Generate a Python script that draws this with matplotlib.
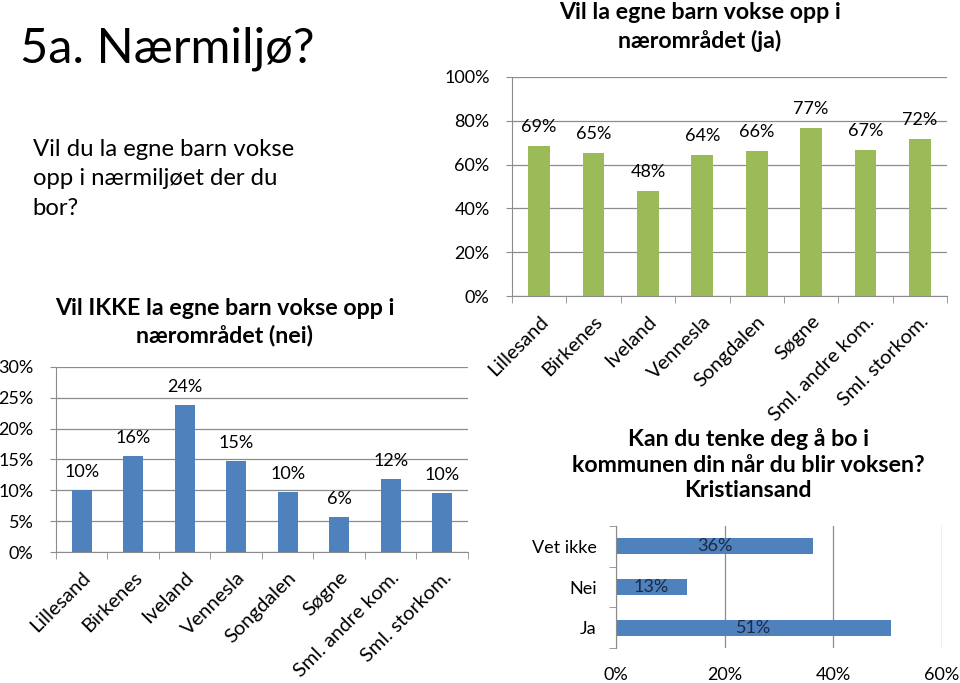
import matplotlib.pyplot as plt
import numpy as np
from matplotlib.ticker import FixedLocator, PercentFormatter

plt.rcParams['font.family'] = ['Lato', 'DejaVu Sans']

places = ["Lillesand", "Birkenes", "Iveland", "Vennesla", "Songdalen",
          "Søgne", "Sml. andre kom.", "Sml. storkom."]
ja_vals = [68.5, 65.3, 47.9, 64.4, 66.2, 76.7, 66.7, 71.7]
ja_labels = ["69%", "65%", "48%", "64%", "66%", "77%", "67%", "72%"]
nei_vals = [10.0, 15.5, 23.9, 14.8, 9.7, 5.6, 11.9, 9.5]
nei_labels = ["10%", "16%", "24%", "15%", "10%", "6%", "12%", "10%"]
kr_cats = ["Ja", "Nei", "Vet ikke"]
kr_vals = [50.6, 13.1, 36.3]
kr_labels = ["51%", "13%", "36%"]

GREEN = "#9BBB59"
BLUE = "#4F81BD"
GRID = "#8c8c8c"
FS = 13
TFS = 16.7

fig = plt.figure(figsize=(9.6, 6.83), dpi=100)


def style_vbar(ax, ymax, ystep):
    n = len(places)
    ax.set_xlim(-0.5, n - 0.5)
    ax.set_ylim(0, ymax)
    ax.set_yticks(np.arange(0, ymax + 0.01, ystep))
    ax.yaxis.set_major_formatter(PercentFormatter(decimals=0))
    ax.grid(axis='y', color=GRID, lw=0.9)
    ax.set_axisbelow(True)
    for s in ['top', 'right']:
        ax.spines[s].set_visible(False)
    for s in ['left', 'bottom']:
        ax.spines[s].set_color(GRID)
    ax.set_xticks(range(n))
    ax.set_xticklabels(places, rotation=45, ha='right', rotation_mode='anchor', fontsize=14.5)
    ax.tick_params(axis='x', length=0, pad=12)
    ax.xaxis.set_minor_locator(FixedLocator(np.arange(-0.5, n, 1)))
    ax.tick_params(axis='x', which='minor', length=5, color=GRID)
    ax.tick_params(axis='y', length=4, color=GRID, labelsize=FS, pad=12)


# top right: ja
ax1 = fig.add_axes([0.5333, 0.5666, 0.4532, 0.3207])
ax1.bar(range(len(places)), ja_vals, width=0.4, color=GREEN)
style_vbar(ax1, 100, 20)
for i, (v, t) in enumerate(zip(ja_vals, ja_labels)):
    ax1.annotate(t, (i, v), xytext=(0, 13.5), textcoords='offset points', ha='center', va='center', fontsize=FS)
fig.text(700 / 960, 0.9605, "Vil la egne barn vokse opp i\nnærområdet (ja)", fontsize=TFS,
         fontweight='bold', ha='center', va='center', linespacing=1.33)

# bottom left: nei
ax2 = fig.add_axes([0.0583, 0.1918, 0.4292, 0.2709])
ax2.bar(range(len(places)), nei_vals, width=0.39, color=BLUE)
style_vbar(ax2, 30, 5)
for i, (v, t) in enumerate(zip(nei_vals, nei_labels)):
    ax2.annotate(t, (i, v), xytext=(0, 13), textcoords='offset points', ha='center', va='center', fontsize=FS)
fig.text(225 / 960, 0.5278, "Vil IKKE la egne barn vokse opp i\nnærområdet (nei)", fontsize=TFS,
         fontweight='bold', ha='center', va='center', linespacing=1.3)

# bottom right: Kristiansand
ax3 = fig.add_axes([0.6417, 0.0512, 0.3396, 0.1787])
ax3.barh(range(len(kr_cats)), kr_vals, height=0.4, color=BLUE)
ax3.set_xlim(0, 60)
ax3.set_ylim(-0.5, len(kr_cats) - 0.5)
ax3.set_xticks([0, 20, 40, 60])
ax3.xaxis.set_major_formatter(PercentFormatter(decimals=0))
ax3.grid(axis='x', color=GRID, lw=0.9)
ax3.set_axisbelow(True)
for s in ['top', 'right', 'bottom']:
    ax3.spines[s].set_visible(False)
ax3.spines['left'].set_color(GRID)
ax3.set_yticks(range(len(kr_cats)))
ax3.set_yticklabels(kr_cats, fontsize=FS)
ax3.tick_params(axis='y', length=0, pad=14)
ax3.yaxis.set_minor_locator(FixedLocator(np.arange(-0.5, len(kr_cats), 1)))
ax3.tick_params(axis='y', which='minor', length=5, color=GRID)
ax3.tick_params(axis='x', length=0, labelsize=FS, pad=14)
for i, (v, t) in enumerate(zip(kr_vals, kr_labels)):
    ax3.text(v / 2, i, t, ha='center', va='center', fontsize=FS, color='#1b2a48')
fig.text(748 / 960, 0.3199, "Kan du tenke deg å bo i\nkommunen din når du blir voksen?\nKristiansand",
         fontsize=TFS, fontweight='bold', ha='center', va='center', linespacing=1.27)

# slide heading
fig.text(0.021, 0.9078, "5a. Nærmiljø?", fontsize=35, va='baseline', ha='left')
fig.text(0.034, 0.738, "Vil du la egne barn vokse\nopp i nærmiljøet der du\nbor?",
         fontsize=17.2, va='center', ha='left', linespacing=1.5)

fig.savefig("out.png", dpi=100)
